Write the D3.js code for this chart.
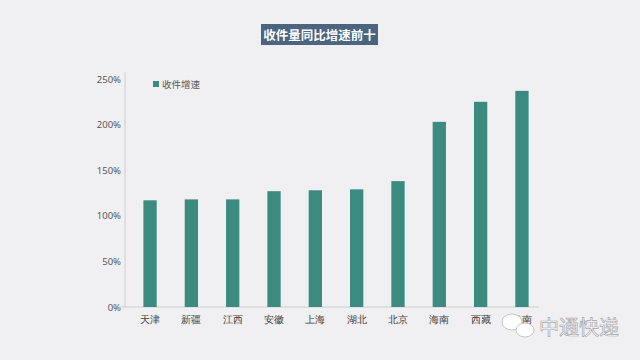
<!DOCTYPE html>
<html>
<head>
<meta charset="utf-8">
<script src="https://cdn.jsdelivr.net/npm/d3@7"></script>
<style>
  html, body { margin: 0; padding: 0; background: #f0eff1; }
  svg { display: block; font-family: "Noto Sans CJK SC", "Noto Sans", sans-serif; }
</style>
</head>
<body>
<script>
// data
const provinces = ["天津", "新疆", "江西", "安徽", "上海", "湖北", "北京", "海南", "西藏", "云南"];
const growth = [117, 118, 118, 127, 128, 129, 138, 203, 225, 237];
const yTicks = [0, 50, 100, 150, 200, 250];

const width = 640, height = 360;
const margin = {top: 79, left: 125, right: 93, bottom: 53};

const svg = d3.select("body").append("svg")
    .attr("width", width)
    .attr("height", height);

svg.append("rect").attr("width", width).attr("height", height).attr("fill", "#f0eff1");

// title box
svg.append("rect")
    .attr("x", 261).attr("y", 24)
    .attr("width", 117).attr("height", 21)
    .attr("fill", "#4a6580");
svg.append("text")
    .attr("x", 319.5).attr("y", 39.5)
    .attr("text-anchor", "middle")
    .attr("fill", "#fff")
    .attr("font-size", 12.5)
    .attr("font-weight", "bold")
    .text("收件量同比增速前十");

let x = d3.scaleBand()
    .domain(provinces)
    .range([margin.left, width - margin.right])
    .paddingInner(0.678)
    .paddingOuter(0.445);

let y = d3.scaleLinear()
    .domain([0, 250])
    .range([height - margin.bottom, margin.top]);

// y axis
let yAxis = svg.append("g")
    .attr("transform", `translate(${margin.left},0)`)
    .call(d3.axisLeft(y).tickValues(yTicks).tickFormat(d => d + "%").tickSize(0).tickPadding(4));
yAxis.select(".domain").attr("stroke", "#d0d0d0").attr("d", `M0,${y(0)}V${margin.top - 7}`);
yAxis.selectAll("text")
    .attr("fill", "#595959")
    .attr("font-size", 9.5)
    .attr("font-family", "'Noto Sans', sans-serif");

// x axis
let xAxis = svg.append("g")
    .attr("transform", `translate(0,${y(0)})`)
    .call(d3.axisBottom(x).tickSize(0).tickPadding(9));
xAxis.select(".domain").attr("stroke", "#d0d0d0").attr("d", `M${margin.left - 6},0H539`);
xAxis.selectAll("text")
    .attr("fill", "#404040")
    .attr("font-size", 10);

// bars
svg.append("g").selectAll("rect")
    .data(growth)
    .enter().append("rect")
    .attr("x", (d, i) => x(provinces[i]))
    .attr("y", d => y(d))
    .attr("width", x.bandwidth())
    .attr("height", d => y(0) - y(d))
    .attr("fill", "#3b8b81");

// legend
svg.append("rect")
    .attr("x", 153).attr("y", 81)
    .attr("width", 6).attr("height", 6)
    .attr("fill", "#3b8b81");
svg.append("text")
    .attr("x", 162).attr("y", 87.5)
    .attr("fill", "#595959")
    .attr("font-size", 9.5)
    .text("收件增速");

// watermark
let wm = svg.append("g").attr("fill", "#fff").attr("stroke", "#b8b8b8").attr("stroke-width", 0.8);
wm.append("ellipse").attr("cx", 512).attr("cy", 322).attr("rx", 10).attr("ry", 8);
wm.append("ellipse").attr("cx", 525).attr("cy", 330).attr("rx", 9).attr("ry", 7);
svg.append("text")
    .attr("x", 539).attr("y", 335)
    .attr("fill", "#fff")
    .attr("stroke", "#a8a8a8")
    .attr("stroke-width", 0.7)
    .attr("font-size", 20)
    .text("中通快递");
</script>
</body>
</html>
